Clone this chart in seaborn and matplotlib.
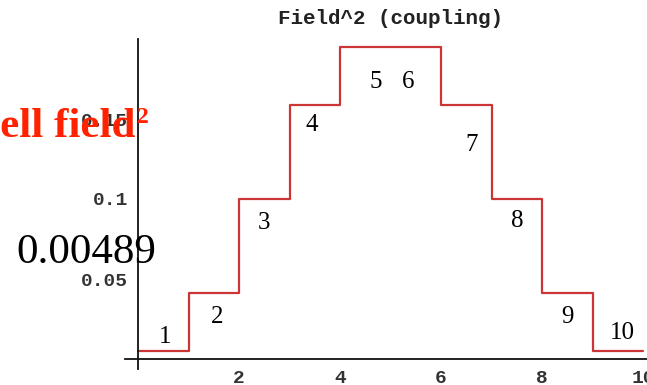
import matplotlib
matplotlib.use("Agg")
import matplotlib.pyplot as plt
from matplotlib.ticker import MultipleLocator
import seaborn as sns
import pandas as pd

# Squared field in each of the ten cells
cells = [1, 2, 3, 4, 5, 6, 7, 8, 9, 10]
field_sq = [0.00489, 0.0412, 0.1, 0.1588, 0.1951, 0.1951, 0.1588, 0.1, 0.0412, 0.00489]
x_ticks = [2, 4, 6, 8, 10]
y_ticks = [0.05, 0.1, 0.15]
y_tick_labels = ["0.05", "0.1", "0.15"]
title = "Field^2 (coupling)"
side_label = "cell field"
value_note = "0.00489"

# cell i spans [i-1, i); close the last step at x = 10
edges = [c - 1 for c in cells] + [cells[-1]]
df = pd.DataFrame({"x": edges, "y": field_sq + [field_sq[-1]]})

sns.set_style("white")
plt.rcParams["font.family"] = ["Liberation Serif", "DejaVu Sans"]

W, H = 647, 385
fig = plt.figure(figsize=(W / 100, H / 100), dpi=100)
ax = fig.add_axes([125.4 / W, 16.4 / H, 522.7 / W, 329.6 / H])

sns.lineplot(data=df, x="x", y="y", drawstyle="steps-post",
             color="#cc3535", linewidth=1.6, ax=ax)

ax.set_xlim(-0.25, 10.1)
ax.set_ylim(-0.006, 0.2)
ax.set_xlabel("")
ax.set_ylabel("")

for side in ("top", "right"):
    ax.spines[side].set_visible(False)
ax.spines["left"].set_position(("data", 0))
ax.spines["bottom"].set_position(("data", 0))
for side in ("left", "bottom"):
    ax.spines[side].set_color("#111111")
    ax.spines[side].set_linewidth(1.3)

ax.set_xticks(x_ticks)
ax.set_xticklabels([str(t) for t in x_ticks])
ax.set_yticks(y_ticks)
ax.set_yticklabels(y_tick_labels)
ax.xaxis.set_minor_locator(MultipleLocator(0.5))
ax.yaxis.set_minor_locator(MultipleLocator(0.01))
ax.tick_params(which="major", direction="in", length=3.5, width=1.0,
               color="#111111", labelsize=14, labelcolor="#333333")
ax.tick_params(which="minor", direction="in", length=2.2, width=1.0,
               color="#111111")
ax.tick_params(axis="x", which="major", pad=8)
ax.tick_params(axis="y", which="major", pad=7)
for lab in ax.get_xticklabels() + ax.get_yticklabels():
    lab.set_family("Liberation Mono")
    lab.set_fontweight("bold")

fig.text(391 / W, 1 - 18 / H, title, ha="center", va="center",
         family="Liberation Mono", fontsize=15, fontweight="bold",
         color="#222222")

# cell numbers placed inside each step
num_pos = [(0.53, 0.014), (1.56, 0.026), (2.5, 0.085), (3.44, 0.146),
           (4.71, 0.173), (5.35, 0.173), (6.61, 0.134), (7.5, 0.086),
           (8.51, 0.026), (9.6, 0.016)]
for c, (px, py) in zip(cells, num_pos):
    ax.text(px, py, str(c), ha="center", va="center", fontsize=18,
            color="black", family="Liberation Serif")

ax.text(-1.03, 0.06, value_note, ha="center", va="baseline", fontsize=31,
        color="black", family="Liberation Serif", clip_on=False)

ax.text(-0.06, 0.139, side_label, ha="right", va="baseline", fontsize=31,
        fontweight="bold", color="#ff2200", family="Liberation Serif",
        clip_on=False, zorder=5)
ax.text(-0.02, 0.1475, "2", ha="left", va="baseline", fontsize=17,
        fontweight="bold", color="#ff2200", family="Liberation Serif",
        clip_on=False, zorder=5)

fig.savefig("out.png", dpi=100, facecolor="white")
